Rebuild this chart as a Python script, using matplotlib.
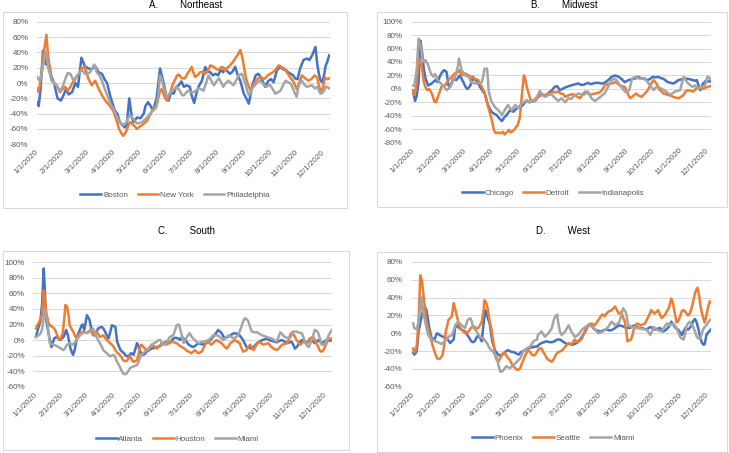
import numpy as np
import matplotlib
matplotlib.use("Agg")
import matplotlib.pyplot as plt
import matplotlib.dates as mdates
from matplotlib.patches import Rectangle

# (day of 2020 counted from Jan 1, % change)

# A. Northeast
boston = [
    (0, -25), (2, -30), (4, -10), (7, 42), (10, 25), (14, 22), (17, 8), (20, 0), (24, -20), (28, -23),
    (31, -16), (34, -8), (37, -15), (41, -12), (45, 0), (48, -5), (52, 33), (56, 22), (60, 19), (64, 18),
    (68, 22), (72, 14), (76, 12), (79, 5), (82, 0), (86, -18), (91, -36), (94, -40), (97, -51), (100, -55),
    (103, -58), (105, -55), (108, -20), (111, -45), (113, -51), (117, -45), (121, -46), (125, -40), (127, -30),
    (130, -25), (133, -30), (136, -36), (140, -20), (144, 19), (146, 10), (148, 1), (151, -15), (154, -23),
    (157, -12), (160, -14), (163, -5), (166, -3), (169, 2), (172, -5), (175, -3), (179, -5), (181, -16),
    (184, -26), (187, -12), (189, -5), (193, 3), (197, 21), (200, 15), (203, 14), (206, 10), (209, 12),
    (212, 10), (215, 17), (218, 14), (220, 19), (223, 15), (226, 12), (229, 15), (232, 21), (235, 10),
    (238, 3), (242, -14), (245, -20), (248, -27), (252, -3), (256, 10), (259, 12), (262, 8), (265, 0),
    (267, -5), (271, 3), (274, 5), (277, 1), (281, 17), (285, 21), (288, 18), (291, 17), (294, 14),
    (297, 12), (300, 10), (302, 6), (305, 5), (308, 19), (312, 30), (316, 32), (319, 30), (322, 36),
    (326, 47), (328, 25), (330, 12), (332, 3), (334, 1), (336, 10), (338, 23), (340, 28), (342, 36),
]
new_york = [
    (0, -7), (2, -12), (5, 10), (8, 40), (11, 63), (13, 35), (15, 20), (17, 5), (20, 0), (23, -3),
    (27, -12), (30, -8), (33, -5), (36, -10), (39, -5), (43, 3), (46, 8), (49, 12), (52, 19), (56, 21),
    (60, 6), (64, -3), (66, 0), (68, 3), (72, -7), (76, -16), (80, -23), (83, -27), (86, -31), (89, -36),
    (91, -42), (94, -52), (96, -60), (99, -66), (101, -69), (103, -66), (105, -62), (107, -55), (109, -51),
    (111, -53), (113, -55), (117, -60), (120, -57), (123, -55), (126, -52), (129, -49), (132, -42),
    (134, -38), (137, -33), (140, -29), (142, -20), (144, -10), (146, -8), (148, -14), (150, -20),
    (152, -23), (154, -18), (156, -12), (158, -5), (160, 1), (162, 5), (164, 10), (166, 11), (168, 8),
    (170, 6), (173, 6), (176, 12), (179, 17), (181, 21), (183, 14), (185, 8), (188, 10), (191, 14),
    (194, 15), (197, 12), (200, 16), (203, 23), (205, 22), (207, 21), (210, 18), (213, 17), (215, 20),
    (217, 21), (220, 17), (223, 20), (226, 23), (229, 27), (232, 32), (235, 37), (238, 43), (240, 35),
    (242, 23), (244, 10), (246, 1), (248, -5), (250, -10), (253, -3), (256, 3), (259, 6), (262, 8),
    (265, 5), (267, 6), (270, 10), (273, 12), (276, 14), (279, 17), (281, 20), (283, 23), (286, 21),
    (289, 19), (292, 15), (296, 8), (300, 2), (304, -8), (307, 0), (310, 10), (314, 6), (318, 3),
    (322, 6), (325, 10), (328, 7), (330, -3), (332, -12), (335, -5), (337, 7), (340, 5), (342, 6),
]
philadelphia = [
    (0, 8), (3, 3), (6, 15), (9, 35), (11, 41), (13, 20), (15, 12), (17, 3), (21, -1), (24, -5),
    (27, -10), (30, -5), (33, 5), (36, 13), (39, 12), (42, 5), (44, 3), (46, 8), (50, 14), (53, 17),
    (56, 12), (59, 12), (62, 14), (64, 18), (67, 24), (70, 14), (73, 10), (76, 3), (80, -10), (83, -18),
    (86, -27), (89, -33), (91, -38), (94, -45), (96, -49), (99, -53), (101, -55), (103, -53), (105, -51),
    (107, -45), (109, -42), (111, -45), (113, -47), (117, -53), (120, -52), (123, -51), (126, -48),
    (129, -45), (132, -41), (134, -38), (137, -35), (140, -31), (142, -15), (144, 10), (146, 5),
    (148, -5), (150, -12), (152, -18), (155, -14), (158, -10), (161, -8), (164, -5), (167, -10),
    (170, -16), (172, -16), (175, -12), (177, -10), (180, -12), (183, -12), (186, -10), (189, -7),
    (192, -8), (195, -10), (198, 0), (201, 10), (204, 3), (207, -3), (210, 2), (213, 6), (216, 0),
    (218, -5), (221, 0), (224, 3), (227, 0), (230, -3), (233, 3), (236, 10), (240, 12), (242, 5),
    (244, -1), (246, -10), (248, -16), (250, -12), (252, -7), (255, -3), (258, 1), (261, 3), (264, 0),
    (266, -3), (269, -5), (271, -3), (273, -3), (276, -8), (279, -14), (282, -12), (285, -10), (288, -3),
    (291, 3), (294, 1), (297, -1), (300, -8), (302, -14), (304, -18), (306, -5), (308, 0), (310, 3),
    (313, -2), (316, -5), (319, -4), (322, -3), (325, -7), (328, -5), (330, -10), (332, -14), (334, -13),
    (336, -10), (338, -5), (340, -5), (342, -7),
]

# B. Midwest
chicago = [
    (0, -5), (2, -18), (4, -10), (6, 10), (8, 72), (10, 55), (12, 30), (14, 15), (17, 5), (21, 8),
    (25, 13), (28, 10), (30, 18), (32, 23), (35, 28), (38, 25), (40, 5), (42, 3), (44, 10), (46, 15),
    (49, 13), (53, 20), (57, 10), (60, 2), (62, 0), (65, 5), (68, 18), (70, 13), (72, 13), (74, 8),
    (76, 3), (79, -3), (82, -9), (85, -24), (89, -34), (92, -37), (95, -39), (98, -44), (101, -48),
    (104, -42), (107, -38), (110, -32), (114, -34), (117, -30), (120, -27), (123, -26), (125, -24),
    (129, -17), (132, -20), (135, -19), (138, -18), (141, -14), (144, -10), (146, -7), (149, -10),
    (152, -9), (155, -5), (158, -2), (161, 3), (164, 4), (167, -2), (170, 0), (173, 2), (177, 4),
    (182, 6), (188, 8), (191, 6), (194, 6), (199, 9), (202, 7), (205, 8), (208, 9), (211, 9), (214, 8),
    (216, 8), (219, 10), (222, 13), (226, 18), (230, 20), (234, 18), (237, 15), (241, 10), (245, 13),
    (248, 14), (251, 15), (254, 16), (256, 18), (259, 16), (262, 15), (265, 14), (267, 13), (270, 15),
    (273, 18), (276, 17), (279, 18), (282, 16), (285, 15), (288, 12), (290, 10), (293, 9), (296, 8),
    (299, 10), (302, 13), (305, 14), (308, 15), (311, 15), (313, 15), (316, 14), (319, 13), (321, 12),
    (323, 13), (325, 5), (327, -2), (330, 8), (332, 10), (334, 13), (336, 11), (338, 11),
]
detroit = [
    (0, -2), (1, -9), (3, 0), (5, 25), (6, 45), (8, 40), (10, 30), (12, 10), (14, 2), (16, -2),
    (18, 0), (20, -4), (22, -10), (24, -19), (26, -20), (28, -12), (30, -5), (32, 3), (34, 5), (36, 5),
    (40, 13), (44, 18), (47, 23), (51, 25), (53, 28), (55, 20), (59, 23), (63, 20), (66, 18), (70, 15),
    (74, 13), (78, 3), (81, -5), (84, -20), (86, -30), (89, -44), (92, -62), (94, -66), (97, -65),
    (100, -66), (102, -64), (104, -68), (107, -64), (109, -61), (111, -65), (113, -63), (115, -61),
    (117, -57), (119, -54), (121, -45), (122, -35), (124, -5), (126, 20), (127, 18), (129, 5),
    (131, -5), (134, -18), (137, -17), (139, -18), (142, -12), (145, -10), (148, -9), (151, -9),
    (154, -7), (157, -6), (160, -5), (163, -5), (165, -4), (168, -7), (171, -8), (173, -12), (176, -10),
    (178, -9), (181, -8), (184, -9), (187, -12), (190, -14), (193, -8), (196, -4), (199, -7), (201, -9),
    (204, -8), (207, -7), (210, -6), (213, -5), (216, 0), (218, 5), (221, 7), (224, 8), (227, 8),
    (230, 10), (233, 8), (235, 5), (238, 4), (241, 3), (243, -3), (245, -9), (247, -14), (249, -12),
    (251, -10), (254, -7), (257, -10), (260, -12), (263, -8), (266, -4), (268, 0), (270, 5), (272, 10),
    (274, 13), (277, 8), (279, 3), (281, -2), (283, -4), (285, -7), (288, -8), (290, -9), (293, -10),
    (296, -12), (299, -13), (302, -14), (305, -12), (308, -9), (310, -4), (313, -2), (316, -3),
    (319, -4), (322, 0), (325, 3), (328, 1), (330, 0), (333, 2), (336, 3), (338, 4),
]
indianapolis = [
    (0, 5), (1, 4), (3, 20), (4, 30), (6, 75), (8, 65), (9, 60), (11, 40), (13, 43), (14, 42),
    (16, 38), (17, 35), (20, 23), (23, 18), (25, 22), (27, 15), (30, 10), (34, 5), (37, 0), (38, -2),
    (40, 0), (42, 3), (46, 13), (49, 23), (51, 35), (52, 45), (54, 35), (55, 28), (59, 20), (63, 18),
    (66, 10), (70, 8), (74, 8), (78, 10), (80, 20), (81, 30), (84, 30), (85, 15), (86, -4), (89, -19),
    (93, -27), (97, -32), (99, -35), (101, -39), (104, -32), (108, -24), (112, -32), (116, -24),
    (120, -29), (123, -22), (126, -20), (129, -17), (132, -19), (135, -19), (138, -16), (141, -12),
    (144, -3), (147, -8), (150, -12), (153, -10), (156, -8), (159, -10), (161, -13), (165, -18),
    (169, -14), (173, -20), (177, -14), (180, -15), (182, -12), (185, -9), (188, -7), (191, -8),
    (194, -9), (197, -6), (199, -4), (203, -14), (207, -18), (210, -15), (213, -12), (216, -9),
    (218, -7), (220, -2), (222, 3), (224, 8), (226, 13), (230, 15), (232, 12), (234, 8), (237, 3),
    (240, -2), (242, -5), (244, -4), (246, -2), (248, 8), (249, 15), (253, 18), (256, 16), (258, 15),
    (261, 15), (264, 16), (266, 12), (268, 8), (271, 3), (274, -2), (277, 3), (280, 2), (283, 0),
    (286, -2), (288, -4), (291, -7), (293, -9), (296, -6), (298, -4), (301, -3), (304, -2), (306, 8),
    (308, 18), (310, 14), (312, 10), (315, 6), (318, 3), (321, 5), (323, 2), (325, 0), (327, 2),
    (329, 3), (332, 5), (334, 10), (335, 18), (337, 17), (338, 15),
]

# C. South
atlanta = [
    (0, 4), (2, 13), (4, 20), (5, 24), (7, 45), (9, 92), (10, 71), (11, 45), (12, 24), (14, 12),
    (15, 6), (18, -9), (21, 2), (24, 4), (26, 2), (28, 0), (30, 2), (32, 4), (35, 13), (37, 6),
    (40, -11), (42, -17), (43, -19), (45, -12), (46, -6), (48, 5), (50, 11), (53, 19), (54, 20),
    (56, 13), (59, 32), (61, 28), (62, 26), (64, 15), (66, 10), (68, 6), (70, 10), (72, 15), (76, 17),
    (78, 15), (80, 11), (82, 6), (84, 2), (86, 10), (88, 19), (90, 18), (92, 17), (93, 8), (94, -2),
    (96, -8), (98, -13), (100, -15), (102, -17), (104, -20), (106, -21), (108, -20), (110, -17),
    (112, -18), (113, -19), (115, -12), (117, -4), (119, -8), (120, -13), (122, -17), (124, -19),
    (126, -18), (128, -15), (131, -13), (134, -11), (137, -10), (140, -9), (143, -8), (146, -6),
    (148, -4), (151, -2), (153, -3), (155, -4), (157, -1), (159, 2), (162, 3), (165, 2), (167, 0),
    (169, 4), (171, 2), (173, 0), (175, -3), (177, -6), (180, -8), (182, -9), (185, -7), (188, -4),
    (191, -5), (194, -6), (197, -4), (200, -2), (203, 1), (205, 4), (208, 8), (211, 13), (213, 11),
    (215, 9), (217, 5), (219, 2), (222, 4), (225, 6), (228, 8), (230, 9), (233, 8), (236, 6), (238, 3),
    (240, 0), (242, -5), (244, -9), (247, -10), (250, -11), (253, -8), (256, -4), (259, -2), (262, 0),
    (265, 1), (267, 2), (270, 0), (273, -1), (276, -2), (279, -3), (282, -1), (285, 0), (288, -2),
    (291, -4), (294, -3), (296, -2), (298, -6), (300, -11), (302, -9), (304, -6), (306, -2), (308, 0),
    (311, -2), (313, -3), (316, -2), (320, -1), (323, -4), (325, -2), (327, 0), (329, -2), (331, -4),
    (334, -2), (337, 0), (340, -1), (343, 0),
]
houston = [
    (0, 15), (2, 20), (4, 24), (7, 32), (8, 45), (9, 64), (10, 55), (12, 34), (15, 21), (17, 18),
    (19, 17), (21, 15), (23, 11), (25, 5), (27, 0), (29, 3), (31, 9), (33, 30), (34, 45), (36, 43),
    (38, 30), (39, 19), (41, 15), (43, 11), (45, 6), (47, 2), (49, 5), (51, 9), (53, 10), (55, 11),
    (57, 10), (59, 9), (61, 11), (63, 13), (65, 9), (66, 6), (68, 8), (70, 11), (72, 8), (74, 4),
    (76, 5), (78, 6), (80, 3), (82, 0), (84, -2), (86, -4), (88, -6), (90, -9), (93, -15), (95, -17),
    (97, -19), (99, -22), (101, -26), (103, -27), (105, -27), (107, -24), (109, -21), (111, -25),
    (113, -28), (115, -27), (117, -26), (119, -18), (120, -11), (122, -6), (124, -8), (126, -11),
    (128, -12), (130, -13), (132, -10), (134, -6), (137, -8), (140, -11), (143, -8), (146, -4),
    (148, -5), (151, -6), (154, -4), (157, -2), (160, -3), (163, -4), (166, -7), (169, -9), (172, -11),
    (175, -14), (177, -15), (180, -17), (182, -15), (184, -13), (186, -15), (188, -17), (190, -16),
    (192, -15), (195, -8), (198, -2), (200, -3), (203, -6), (206, -3), (209, 0), (212, -2), (215, -4),
    (218, -8), (221, -11), (223, -8), (225, -4), (228, -2), (230, 0), (233, -2), (236, -4), (238, -10),
    (240, -15), (242, -14), (244, -13), (246, -9), (248, -6), (250, -9), (252, -13), (255, -7),
    (258, -2), (261, -4), (263, -6), (266, -5), (269, -4), (272, -8), (275, -11), (277, -12),
    (279, -13), (282, -10), (285, -6), (288, -5), (291, -4), (293, 2), (295, 8), (297, 10), (299, 6),
    (302, 0), (304, -3), (306, -6), (308, -4), (310, -2), (312, -3), (314, -4), (317, 2), (319, 3),
    (321, 4), (323, 0), (325, -4), (327, -9), (329, -14), (331, -15), (333, -13), (335, -8), (337, -3),
    (339, 1), (341, 2), (343, 2),
]
miami_south = [
    (0, 4), (3, 6), (5, 8), (7, 13), (9, 30), (10, 39), (12, 30), (13, 24), (15, 5), (16, -4),
    (18, -5), (20, -6), (23, -7), (26, -9), (29, -11), (32, -13), (34, -10), (36, -6), (39, -4),
    (41, -5), (43, -6), (45, -3), (47, 0), (49, 3), (51, 6), (53, 8), (55, 9), (57, 10), (59, 9),
    (61, 10), (63, 11), (65, 13), (66, 15), (68, 10), (70, 4), (72, 0), (74, -4), (76, -8), (78, -13),
    (80, -15), (82, -17), (84, -19), (86, -21), (88, -20), (90, -19), (92, -22), (93, -26), (95, -30),
    (97, -34), (99, -39), (101, -43), (103, -44), (105, -43), (107, -40), (109, -36), (111, -35),
    (113, -34), (115, -33), (117, -32), (119, -28), (120, -24), (122, -20), (124, -17), (126, -15),
    (128, -13), (131, -10), (134, -6), (137, -4), (140, -2), (142, 0), (144, 0), (147, -6), (149, -5),
    (151, -4), (153, 0), (155, 4), (157, 5), (159, 6), (161, 12), (163, 19), (165, 20), (166, 19),
    (168, 10), (170, 2), (171, -4), (173, 0), (174, 2), (176, 6), (178, 9), (180, 5), (182, 2),
    (185, -1), (188, -4), (191, -3), (194, -2), (197, -1), (200, 0), (203, 3), (205, 6), (208, 6),
    (211, 6), (214, 3), (217, 0), (220, 3), (223, 6), (226, 4), (229, 2), (232, 4), (234, 6), (236, 11),
    (238, 17), (240, 24), (242, 28), (244, 27), (246, 24), (248, 17), (250, 11), (253, 10), (256, 10),
    (259, 8), (262, 6), (265, 5), (267, 4), (270, 3), (273, 2), (276, 0), (279, -2), (281, 4), (283, 10),
    (285, 8), (288, 4), (291, 3), (294, 2), (296, 6), (298, 11), (301, 11), (304, 10), (306, 9),
    (308, 9), (310, 3), (312, -4), (314, -7), (316, -9), (318, -4), (320, 2), (322, 9), (323, 13),
    (325, 12), (327, 9), (329, 2), (331, -6), (333, -6), (335, -4), (337, 0), (339, 6), (341, 10),
    (343, 13),
]

# D. West
phoenix = [
    (0, -22), (1, -24), (3, -22), (4, -19), (5, -10), (6, 2), (8, 12), (9, 17), (11, 25), (13, 30),
    (15, 26), (16, 20), (18, 7), (20, -2), (21, -6), (24, -7), (27, 0), (30, -2), (34, -4), (38, -6),
    (40, -8), (42, -11), (44, -9), (46, -7), (48, 9), (51, 7), (55, 4), (59, 2), (61, -1), (63, -4),
    (66, -9), (68, -10), (70, -9), (72, -5), (74, -2), (76, -5), (78, -9), (80, 10), (82, 26), (84, 20),
    (85, 17), (87, 11), (88, 5), (90, -9), (93, -19), (95, -22), (97, -24), (99, -25), (101, -24),
    (104, -22), (106, -20), (108, -19), (110, -20), (112, -21), (114, -21), (116, -22), (118, -23),
    (120, -24), (123, -21), (125, -20), (127, -19), (129, -18), (131, -17), (133, -16), (135, -16),
    (138, -15), (141, -15), (143, -13), (146, -11), (149, -10), (152, -9), (155, -10), (158, -10),
    (161, -9), (164, -7), (167, -7), (170, -9), (173, -11), (175, -12), (178, -12), (181, -13),
    (184, -12), (186, -11), (188, -9), (190, -7), (192, -4), (194, -1), (196, 2), (198, 6), (199, 9),
    (201, 10), (203, 9), (205, 6), (207, 4), (210, 3), (213, 2), (216, 3), (218, 4), (221, 4), (224, 3),
    (227, 4), (230, 6), (233, 8), (235, 9), (238, 8), (241, 7), (244, 6), (247, 6), (250, 8), (253, 9),
    (255, 7), (257, 6), (260, 6), (263, 5), (266, 4), (268, 6), (271, 7), (273, 5), (275, 4), (278, 5),
    (281, 6), (283, 4), (285, 2), (288, 4), (291, 7), (293, 11), (294, 13), (296, 10), (298, 7),
    (300, 5), (302, 4), (304, 1), (306, -2), (308, 2), (310, 6), (313, 4), (315, 6), (317, 9),
    (319, 14), (321, 16), (323, 12), (325, 4), (327, -5), (329, -11), (331, -13), (332, -12),
    (334, -2), (336, 1), (338, 3), (339, 4),
]
seattle = [
    (0, -17), (1, -22), (3, -18), (4, -13), (5, 0), (6, 13), (7, 40), (8, 65), (9, 62), (10, 58),
    (12, 40), (13, 32), (15, 13), (17, 5), (19, -2), (21, -10), (23, -17), (25, -23), (27, -28),
    (29, -29), (31, -28), (33, -25), (34, -21), (36, -8), (37, 2), (39, 10), (40, 15), (42, 17),
    (44, 19), (46, 34), (47, 30), (49, 22), (51, 14), (52, 9), (54, 5), (55, 4), (57, 2), (59, 0),
    (61, 1), (63, 2), (65, 5), (66, 6), (68, 8), (70, 7), (72, 5), (74, 6), (76, 9), (78, 13), (80, 25),
    (81, 37), (82, 36), (84, 32), (86, 20), (87, 13), (89, 5), (90, -2), (92, -15), (93, -24),
    (95, -30), (97, -32), (99, -28), (101, -24), (103, -22), (104, -22), (106, -25), (108, -28),
    (110, -30), (112, -34), (114, -37), (116, -39), (118, -41), (120, -41), (122, -39), (123, -36),
    (125, -31), (127, -26), (129, -22), (131, -19), (133, -21), (135, -24), (137, -25), (139, -24),
    (141, -21), (142, -19), (144, -17), (146, -17), (148, -21), (150, -24), (152, -28), (154, -30),
    (156, -31), (158, -32), (160, -29), (162, -25), (164, -22), (166, -21), (168, -20), (170, -19),
    (173, -15), (175, -13), (177, -11), (179, -12), (180, -13), (182, -10), (184, -7), (186, -9),
    (188, -10), (190, -8), (192, -6), (194, -1), (196, 4), (198, 7), (199, 9), (201, 10), (203, 11),
    (205, 10), (207, 9), (209, 12), (211, 15), (213, 18), (215, 21), (217, 20), (218, 19), (220, 22),
    (222, 24), (224, 25), (226, 26), (228, 28), (230, 30), (232, 26), (234, 22), (236, 23), (237, 24),
    (239, 18), (241, 13), (243, 0), (244, -9), (246, -8), (248, -7), (250, -1), (251, 4), (253, 8),
    (255, 11), (257, 10), (259, 9), (262, 10), (264, 11), (266, 15), (268, 19), (270, 23), (271, 26),
    (273, 24), (275, 22), (277, 24), (279, 26), (281, 21), (283, 17), (285, 19), (287, 21), (289, 25),
    (291, 28), (293, 35), (294, 39), (296, 33), (298, 22), (300, 12), (302, 14), (304, 19), (306, 25),
    (308, 26), (310, 24), (313, 20), (315, 22), (317, 28), (319, 36), (321, 45), (323, 50), (324, 51),
    (326, 40), (327, 32), (329, 22), (331, 15), (332, 12), (334, 20), (336, 30), (338, 36), (339, 35),
]
miami_west = [
    (0, 11), (1, 6), (4, 4), (6, 13), (8, 30), (9, 41), (11, 24), (14, 11), (17, -2), (19, -5),
    (21, -7), (25, -9), (28, -10), (32, -12), (36, -9), (40, -4), (44, -2), (46, 3), (48, 9), (51, 13),
    (53, 11), (55, 9), (59, 6), (62, 15), (65, 17), (67, 12), (68, 7), (72, 2), (76, -4), (80, -6),
    (84, -11), (87, -17), (91, -21), (95, -26), (97, -36), (99, -43), (101, -43), (103, -41),
    (106, -37), (110, -39), (114, -36), (118, -32), (122, -28), (125, -21), (129, -17), (133, -15),
    (137, -9), (141, -7), (142, -2), (146, 2), (150, -4), (154, 0), (158, 6), (160, 15), (162, 19),
    (164, 21), (165, 13), (167, 2), (169, -2), (171, 0), (173, 2), (177, 9), (180, 2), (184, -4),
    (188, -2), (192, 4), (196, 7), (199, 9), (202, 8), (205, 7), (208, 3), (211, 0), (216, 2), (219, 4),
    (222, 7), (226, 13), (230, 9), (233, 11), (235, 13), (237, 20), (239, 28), (242, 24), (244, 15),
    (245, 9), (249, 7), (254, 6), (260, 5), (266, 4), (270, -2), (274, 7), (277, 4), (280, 3), (283, 2),
    (286, 7), (289, 11), (292, 9), (296, 11), (300, 6), (302, 1), (304, -4), (306, -6), (308, -7),
    (310, 0), (311, 7), (313, 11), (315, 13), (317, 10), (319, 7), (321, 2), (323, -4), (325, -6),
    (327, -6), (330, 4), (332, 7), (334, 9), (336, 12), (338, 15),
]

month_starts = ["2020-01-01", "2020-02-01", "2020-03-01", "2020-04-01", "2020-05-01", "2020-06-01",
                "2020-07-01", "2020-08-01", "2020-09-01", "2020-10-01", "2020-11-01", "2020-12-01"]
month_labels = ["1/1/2020", "2/1/2020", "3/1/2020", "4/1/2020", "5/1/2020", "6/1/2020",
                "7/1/2020", "8/1/2020", "9/1/2020", "10/1/2020", "11/1/2020", "12/1/2020"]

COLORS = ["#4472C4", "#ED7D31", "#A5A5A5"]
GRID = "#D9D9D9"
TEXT = "#595959"
W, H = 729, 453
START = np.datetime64("2020-01-01")
X0 = mdates.date2num(START)

plt.rcParams["font.family"] = ["Liberation Sans", "DejaVu Sans"]
fig = plt.figure(figsize=(W / 100, H / 100), dpi=100)


def draw_panel(box, xlim, ylim, title, title_xy, series, names, legend_xy, frame):
    """box/frame = (left, top, right, bottom) in pixels from the top-left corner"""
    left, top, right, bottom = box
    ax = fig.add_axes([left / W, 1 - bottom / H, (right - left) / W, (bottom - top) / H])
    for data, name, color in zip(series, names, COLORS):
        days, vals = zip(*data)
        dates = START + np.array(days, dtype="timedelta64[D]")
        ax.plot(dates, vals, color=color, lw=1.8, label=name, solid_joinstyle="round")

    ax.set_xlim(X0 + xlim[0], X0 + xlim[1])
    ax.set_ylim(*ylim)
    yt = np.arange(ylim[0], ylim[1] + 1, 20)
    ax.set_yticks(yt)
    ax.set_yticklabels([f"{v}%" for v in yt], fontsize=5.8, color=TEXT)
    ax.set_xticks(np.array(month_starts, dtype="datetime64[D]"))
    ax.set_xticklabels(month_labels, rotation=45, ha="right", va="center",
                       rotation_mode="anchor", fontsize=5.8, color=TEXT)
    ax.tick_params(axis="both", length=0)
    ax.tick_params(axis="y", pad=6)
    ax.tick_params(axis="x", pad=5)
    ax.yaxis.grid(True, color=GRID, lw=0.75)
    ax.set_axisbelow(True)
    for s in ax.spines.values():
        s.set_visible(False)

    ax.legend(loc="center", bbox_to_anchor=(legend_xy[0] / W, 1 - legend_xy[1] / H),
              bbox_transform=fig.transFigure, ncol=3, frameon=False, fontsize=5.8,
              labelcolor=TEXT, handlelength=2.6, handletextpad=0.2, columnspacing=1.2)

    fig.text(title_xy[0] / W, 1 - title_xy[1] / H, title, ha="center", va="center",
             fontsize=7, color="black")

    fl, ft, fr, fb = frame
    fig.add_artist(Rectangle((fl / W, 1 - fb / H), (fr - fl) / W, (fb - ft) / H,
                             transform=fig.transFigure, fill=False, edgecolor=GRID, lw=0.75))


draw_panel((37, 21.7, 330, 144.3), (0, 343), (-80, 80), "A.        Northeast", (186, 5.5),
           [boston, new_york, philadelphia], ["Boston", "New York", "Philadelphia"],
           (175, 195), (3, 12, 347, 208))
draw_panel((411, 21.7, 711, 142.6), (-2.6, 339.2), (-80, 100), "B.        Midwest", (564, 5.5),
           [chicago, detroit, indianapolis], ["Chicago", "Detroit", "Indianapolis"],
           (553, 193), (377, 12, 727, 207))
draw_panel((33.3, 262.3, 331.7, 386.7), (-3.1, 342.6), (-60, 100), "C.        South", (186, 231),
           [atlanta, houston, miami_south], ["Atlanta", "Houston", "Miami"],
           (177, 438.7), (3, 251, 349, 450))
draw_panel((411, 262, 711, 386.7), (-2.6, 339.2), (-60, 80), "D.        West", (563, 231),
           [phoenix, seattle, miami_west], ["Phoenix", "Seattle", "Miami"],
           (553, 438), (377, 252, 727, 452))

fig.savefig("out.png", dpi=100)
